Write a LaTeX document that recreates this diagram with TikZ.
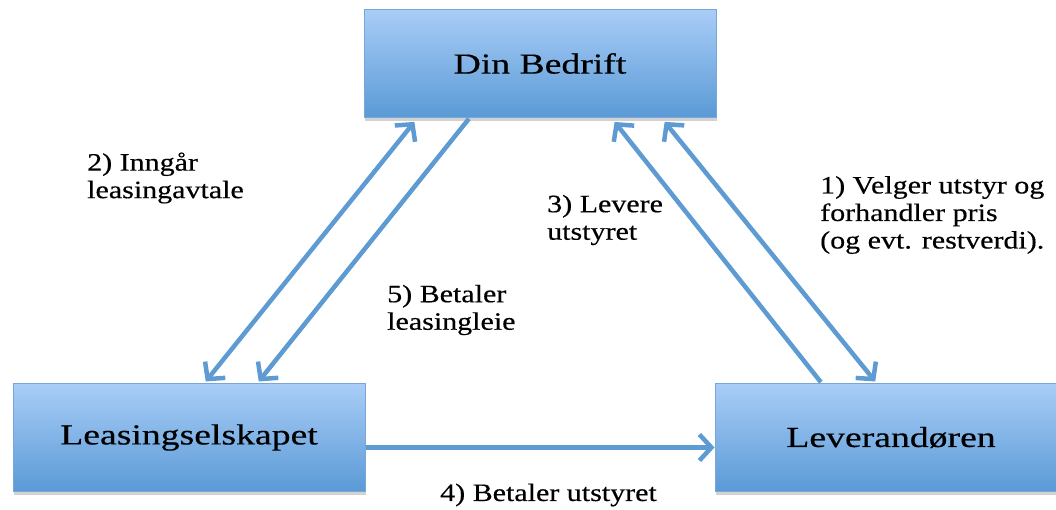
\documentclass[tikz,border=0pt]{standalone}
\usepackage{fontspec}
\setmainfont{Liberation Serif}
\newfontfamily\boksfont[FakeStretch=1.3, FakeBold=0.4]{Liberation Serif}
\newfontfamily\tekstfont[FakeStretch=1.2, FakeBold=0.4]{Liberation Serif}
\usetikzlibrary{shapes, arrows.meta, positioning, shadows}
\definecolor{boksopp}{HTML}{A9CDF7}
\definecolor{boksned}{HTML}{5A9AD6}
\definecolor{kant}{HTML}{78A6D6}
\definecolor{pil}{HTML}{5E9BD3}
\tikzstyle{boks} = [draw=kant, line width=1pt, top color=boksopp, bottom color=boksned, rectangle, minimum width=352pt, minimum height=108pt, font=\boksfont\fontsize{29}{31}\selectfont, drop shadow={shadow xshift=1pt, shadow yshift=-3pt, opacity=0.35}]
\tikzstyle{merke} = [font=\tekstfont\fontsize{25}{27.5}\selectfont, align=left, anchor=west, inner sep=0pt]
\tikzstyle{strom} = [draw=pil, line width=4.5pt, -{Straight Barb[length=12pt, width=26pt]}]
\tikzstyle{tovei} = [draw=pil, line width=4.5pt, {Straight Barb[length=12pt, width=26pt]}-{Straight Barb[length=12pt, width=26pt]}]

\begin{document}
\begin{tikzpicture}[x=1pt, y=-1pt]
	\clip (0,0) rectangle (1056,509);
	\fill[white] (0,0) rectangle (1056,509);
	\node [boks] (bedrift) at (540,63.5) {Din Bedrift};
	\node [boks] (leasing) at (189,437.5) {Leasingselskapet};
	\node [boks] (leverandor) at (891,437.5) {Leverandøren};
	% piler mellom boksene
	\draw [tovei, shorten <=2pt, shorten >=5pt] ([xshift=192pt]leasing.north west) -- ([xshift=54pt]bedrift.south west);
	\draw [strom, shorten <=1pt, shorten >=2pt] ([xshift=106pt]bedrift.south west) -- ([xshift=245pt]leasing.north west);
	\draw [strom, shorten <=1pt, shorten >=5pt] ([xshift=107pt]leverandor.north west) -- ([xshift=248pt]bedrift.south west);
	\draw [tovei, shorten <=5pt, shorten >=2pt] ([xshift=298pt]bedrift.south west) -- ([xshift=162pt]leverandor.north west);
	\draw [strom] ([yshift=-10pt]leasing.east) -- ([yshift=-10pt]leverandor.west);
	% tekster
	\node [merke] (avtale) at (87,178) {2) Inngår\\leasingavtale};
	\node [merke] (leie) at (387,310) {5) Betaler\\leasingleie};
	\node [merke] (levere) at (547,220) {3) Levere\\utstyret};
	\node [merke] (velger) at (820,215) {1) Velger utstyr og\\forhandler pris\\(og evt. restverdi).};
	\node [merke] (betaler) at (440,495) {4) Betaler utstyret};
\end{tikzpicture}
\end{document}
